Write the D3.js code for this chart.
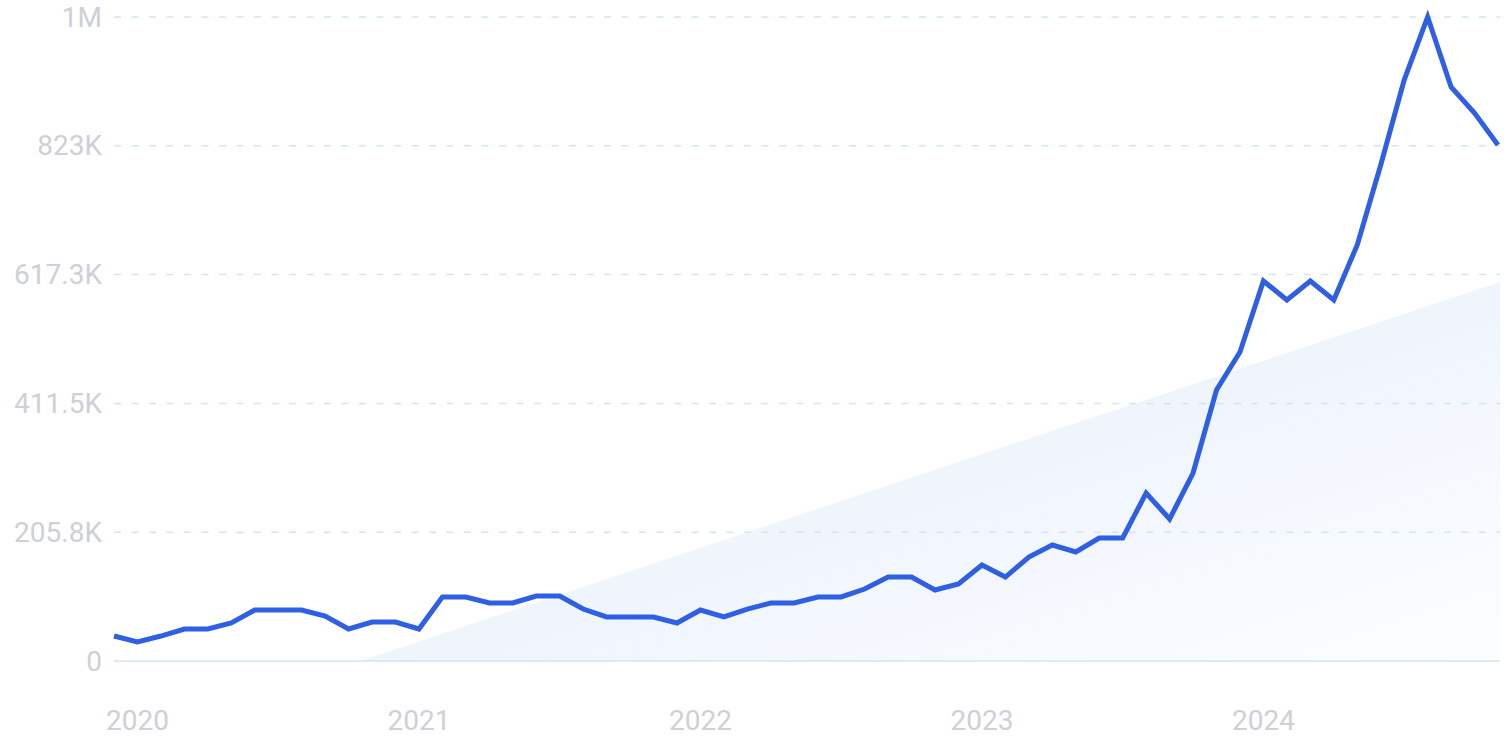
<!DOCTYPE html>
<html>
<head>
<meta charset="utf-8">
<script src="https://cdn.jsdelivr.net/npm/d3@7"></script>
<style>
  html, body { margin: 0; padding: 0; background: #ffffff; }
  svg { display: block; }
  .tick-label { font-family: Roboto, "Open Sans", sans-serif; font-weight: 400; fill: #cdd0d7; }
</style>
</head>
<body>
<svg id="chart" width="1505" height="752"></svg>
<script>
// Monthly values (thousands), Dec 2019 .. Nov 2024 (index 0 = Dec 2019)
const startMonth = "2019-12";
const valuesK = [
  39.9, 30.3, 39.9, 51.1, 51.1, 60.7, 81.5, 81.5, 81.5, 71.9,
  51.1, 62.3, 62.3, 51.1, 102.3, 102.3, 92.7, 92.7, 103.8, 103.8,
  83.0, 70.3, 70.3, 70.3, 60.7, 81.5, 70.3, 83.0, 92.7, 92.7,
  102.3, 102.3, 115.0, 134.1, 134.1, 113.4, 123.0, 153.4, 134.1, 166.1,
  185.3, 174.2, 196.5, 196.5, 268.4, 226.8, 300.3, 432.9, 493.6, 607.1,
  576.7, 607.1, 576.7, 664.6, 792.3, 928.1, 1028.75, 916.9, 875.4, 824.2
];
const values = valuesK.map(v => v * 1000);

// Y ticks and labels
const yTicks = [0, 205750, 411500, 617250, 823000, 1028750];
const yTickLabels = ["0", "205.8K", "411.5K", "617.3K", "823K", "1M"];

// X tick labels (at the January of each year; index into values)
const xTickIndex = [1, 13, 25, 37, 49];
const xTickLabels = ["2020", "2021", "2022", "2023", "2024"];

// Trend band endpoints: [month index, value]
const trend = [[10.5, 0], [59.1, 605400]];

const svg = d3.select("#chart");
const plotLeft = 114, plotRight = 1499, plotTop = 17, plotBottom = 661;

const x = d3.scaleLinear().domain([0, values.length - 1]).range([plotLeft, 1498]);
const y = d3.scaleLinear().domain([0, 1028750]).range([plotBottom, plotTop]);

// gradient for the trend band
const defs = svg.append("defs");
const grad = defs.append("linearGradient")
  .attr("id", "trendGrad")
  .attr("x1", "0").attr("y1", "0").attr("x2", "1").attr("y2", "1");
grad.append("stop").attr("offset", "0%").attr("stop-color", "#e2ecfb");
grad.append("stop").attr("offset", "100%").attr("stop-color", "#fcfdff");

// trend area
const trendArea = d3.area()
  .x(d => x(d[0]))
  .y0(y(0))
  .y1(d => y(d[1]));
svg.append("path")
  .datum(trend)
  .attr("d", trendArea)
  .attr("fill", "url(#trendGrad)");

// gridlines
svg.append("g")
  .selectAll("line")
  .data(yTicks.slice(1))
  .join("line")
  .attr("x1", plotLeft).attr("x2", plotRight + 1)
  .attr("y1", d => y(d)).attr("y2", d => y(d))
  .attr("stroke", "#cfe7f3")
  .attr("stroke-width", 1.5)
  .attr("stroke-dasharray", "7 10.5");

// baseline
svg.append("line")
  .attr("x1", plotLeft).attr("x2", plotRight + 1)
  .attr("y1", y(0)).attr("y2", y(0))
  .attr("stroke", "#d6e2f5")
  .attr("stroke-width", 1.5);

// y labels
svg.append("g")
  .selectAll("text")
  .data(yTicks)
  .join("text")
  .attr("class", "tick-label")
  .attr("x", 102)
  .attr("y", d => y(d))
  .attr("text-anchor", "end")
  .attr("dominant-baseline", "central")
  .attr("font-size", 28)
  .text((d, i) => yTickLabels[i]);

// x labels
svg.append("g")
  .selectAll("text")
  .data(xTickIndex)
  .join("text")
  .attr("class", "tick-label")
  .attr("x", d => x(d))
  .attr("y", 720)
  .attr("text-anchor", "middle")
  .attr("dominant-baseline", "central")
  .attr("font-size", 28)
  .text((d, i) => xTickLabels[i]);

// main line
const line = d3.line()
  .x((d, i) => x(i))
  .y(d => y(d));
svg.append("path")
  .datum(values)
  .attr("d", line)
  .attr("fill", "none")
  .attr("stroke", "#2f5fe3")
  .attr("stroke-width", 5)
  .attr("stroke-linejoin", "miter")
  .attr("stroke-linecap", "butt");
</script>
</body>
</html>
